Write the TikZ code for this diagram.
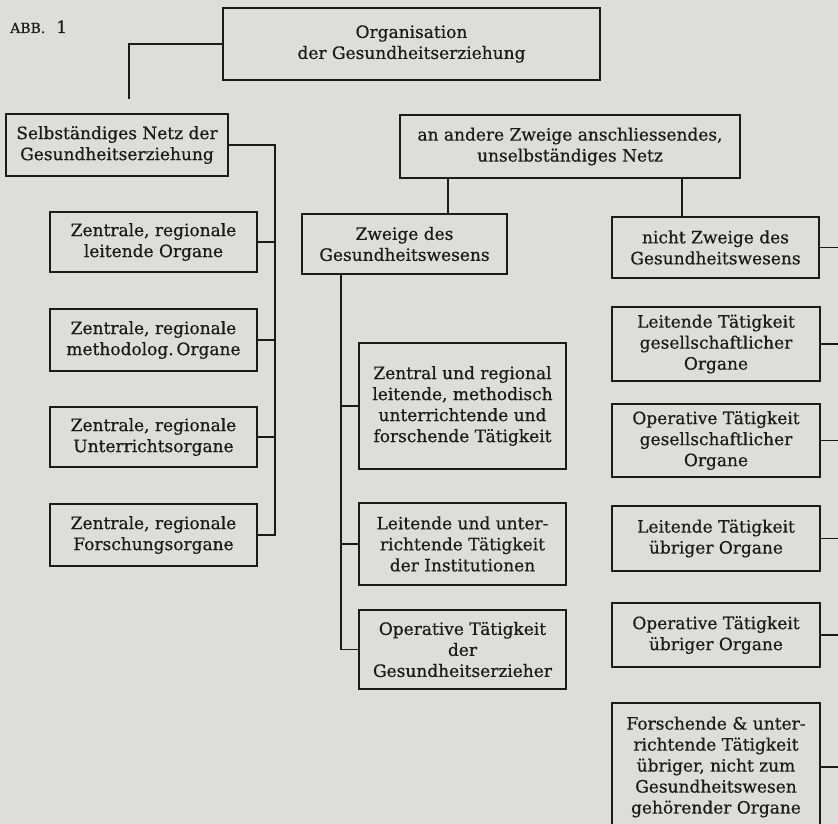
\documentclass[tikz,border=0pt]{standalone}
\usepackage{fontspec}
\setmainfont{DejaVu Serif}[FakeBold=0.5]
\usepackage{tikz}
\newcommand{\gefont}{\fontsize{17}{21}\selectfont}
\definecolor{gepaper}{RGB}{221,221,218}
\definecolor{geink}{RGB}{26,26,26}
\tikzset{
  gebox/.style={draw=geink, line width=1.8pt, align=center, inner sep=0pt, text=geink, font=\gefont},
  geline/.style={draw=geink, line width=1.8pt}
}

\begin{document}
\begin{tikzpicture}[x=1pt, y=-1pt]
  \useasboundingbox (0,0) rectangle (838,824);
  \fill[gepaper] (0,0) rectangle (838,824);
  \clip (0,0) rectangle (838,824);
  \node[anchor=base west, text=geink, font=\gefont, inner sep=0pt] (abb) at (10,33) {{\fontsize{14}{14}\selectfont ABB.}\hspace{11pt}1};
  \node[gebox, minimum width=377pt, minimum height=72pt] (org) at (411.5,44) {Organisation\\der Gesundheitserziehung};
  \node[gebox, minimum width=222pt, minimum height=62pt] (selb) at (117,145) {Selbständiges Netz der\\Gesundheitserziehung};
  \node[gebox, minimum width=340pt, minimum height=63pt] (netz) at (570,146.5) {an andere Zweige anschliessendes,\\unselbständiges Netz};
  \node[gebox, minimum width=207pt, minimum height=60pt] (zl1) at (153.5,242) {Zentrale, regionale\\leitende Organe};
  \node[gebox, minimum width=207pt, minimum height=62pt] (zl2) at (153.5,340) {Zentrale, regionale\\methodolog.\,Organe};
  \node[gebox, minimum width=207pt, minimum height=60pt] (zl3) at (153.5,437) {Zentrale, regionale\\Unterrichtsorgane};
  \node[gebox, minimum width=207pt, minimum height=62pt] (zl4) at (153.5,535) {Zentrale, regionale\\Forschungsorgane};
  \node[gebox, minimum width=205pt, minimum height=60pt] (zweige) at (404.5,244) {Zweige des\\Gesundheitswesens};
  \node[gebox, minimum width=207pt, minimum height=126pt] (zm1) at (462.5,406) {Zentral und regional\\leitende, methodisch\\unterrichtende und\\forschende Tätigkeit};
  \node[gebox, minimum width=207pt, minimum height=82pt] (zm2) at (462.5,544) {Leitende und unter-\\richtende Tätigkeit\\der Institutionen};
  \node[gebox, minimum width=207pt, minimum height=79pt] (zm3) at (462.5,649.5) {Operative Tätigkeit\\der\\Gesundheitserzieher};
  \node[gebox, minimum width=207pt, minimum height=61pt] (nicht) at (715.5,247.5) {nicht Zweige des\\Gesundheitswesens};
  \node[gebox, minimum width=208pt, minimum height=74pt] (zr1) at (716,344) {Leitende Tätigkeit\\gesellschaftlicher\\Organe};
  \node[gebox, minimum width=208pt, minimum height=73pt] (zr2) at (716,440.5) {Operative Tätigkeit\\gesellschaftlicher\\Organe};
  \node[gebox, minimum width=208pt, minimum height=65pt] (zr3) at (716,538.5) {Leitende Tätigkeit\\übriger Organe};
  \node[gebox, minimum width=208pt, minimum height=64pt] (zr4) at (716,635) {Operative Tätigkeit\\übriger Organe};
  \node[gebox, minimum width=208pt, minimum height=128pt] (zr5) at (716,767) {Forschende \& unter-\\richtende Tätigkeit\\übriger, nicht zum\\Gesundheitswesen\\gehörender Organe};
  \coordinate (orgend) at (129,99);
  \coordinate (lbus) at (275,0);
  \coordinate (mbus) at (341,0);
  \coordinate (rbus) at (840,0);
  \coordinate (zwdrop) at (448,0);
  \coordinate (nidrop) at (682,0);
  \draw[geline] (org.west) -| (orgend);
  \draw[geline] (selb.east) -- (selb.east -| lbus) |- (zl4.east);
  \foreach \n in {zl1,zl2,zl3}
    \draw[geline] (\n.east) -- (\n.east -| lbus);
  \draw[geline] (zwdrop |- netz.south) -- (zwdrop |- zweige.north);
  \draw[geline] (nidrop |- netz.south) -- (nidrop |- nicht.north);
  \draw[geline] (mbus |- zweige.south) |- (zm3.west);
  \foreach \n in {zm1,zm2}
    \draw[geline] (\n.west) -- (\n.west -| mbus);
  \foreach \n in {nicht,zr1,zr2,zr3,zr4,zr5}
    \draw[geline] (\n.east) -- (\n.east -| rbus);
\end{tikzpicture}
\end{document}
